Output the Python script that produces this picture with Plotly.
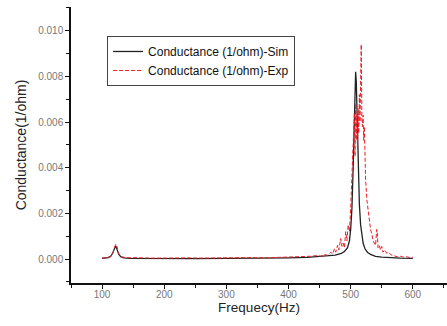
import plotly.graph_objects as go

# Simulated conductance
sim_freq = [100, 105, 110, 114, 117, 119, 121, 122, 123, 125, 127, 130, 135, 145, 170, 200, 250,
            300, 350, 400, 430, 450, 465, 475, 485, 490, 495, 498, 500, 502, 504, 505, 506, 507,
            508, 509, 510, 511, 512, 514, 516, 518, 520, 523, 527, 532, 540, 550, 565, 580, 600]
sim_val = [0.00003, 0.00004, 0.00006, 0.00012, 0.00025, 0.0004, 0.00055, 0.00057, 0.0005, 0.00035,
           0.0002, 0.0001, 0.00005, 0.00003, 0.00002, 0.00002, 0.00002, 0.00003, 0.00003, 0.00005,
           0.00007, 0.0001, 0.00013, 0.00017, 0.00025, 0.00033, 0.0005, 0.0008, 0.0013, 0.0022,
           0.0040, 0.0053, 0.0068, 0.0079, 0.0082, 0.0078, 0.0066, 0.0052, 0.0040, 0.0024, 0.0015,
           0.0010, 0.0007, 0.00045, 0.0003, 0.0002, 0.00012, 0.00008, 0.00005, 0.00004, 0.00003]

# Experimental conductance
exp_freq = [100, 104, 108, 112, 115, 118, 120, 122, 123, 124, 126, 128, 131, 135, 140, 150, 160, 170,
            185, 200, 220, 240, 260, 280, 300, 320, 340, 360, 380, 400, 415, 425, 435, 445, 452, 458,
            463, 468, 471, 474, 476, 479, 481, 484, 486, 488, 490, 492, 494, 496, 498, 500, 502, 504,
            506, 507, 508, 509, 510, 511, 512, 513, 514, 515, 516, 517, 518, 519, 520, 521, 522, 523,
            524, 526, 528, 530, 532, 534, 536, 538, 540, 542, 543, 544, 546, 548, 550, 552, 555, 558,
            561, 565, 570, 575, 580, 585, 590, 595, 600]
exp_val = [0.00004, 0.00005, 0.00006, 0.00009, 0.00015, 0.0003, 0.0005, 0.00065, 0.0006, 0.00055,
           0.0003, 0.00018, 0.0001, 0.00007, 0.00005, 0.00006, 0.00004, 0.00005, 0.00004, 0.00005,
           0.00004, 0.00005, 0.00004, 0.00005, 0.00004, 0.00005, 0.00006, 0.00005, 0.00007, 0.00008,
           0.0001, 0.00009, 0.00012, 0.00015, 0.00012, 0.0002, 0.00016, 0.0003, 0.00022, 0.00045,
           0.0003, 0.0006, 0.0004, 0.0009, 0.00055, 0.0007, 0.0005, 0.0012, 0.0008, 0.0015, 0.0012,
           0.0022, 0.0035, 0.0052, 0.0064, 0.0045, 0.0068, 0.0052, 0.0063, 0.0048, 0.0066, 0.0055,
           0.0072, 0.006, 0.0085, 0.0094, 0.0062, 0.0058, 0.0063, 0.0052, 0.0058, 0.0043, 0.0035,
           0.0026, 0.0022, 0.0016, 0.0013, 0.0011, 0.0008, 0.0007, 0.0006, 0.0013, 0.0011, 0.0005,
           0.0006, 0.0004, 0.00055, 0.0003, 0.0004, 0.00025, 0.0003, 0.00018, 0.00015, 0.0001,
           0.00012, 0.00008, 0.0001, 0.00007, 0.00008]

x_ticks = [100, 200, 300, 400, 500, 600]
y_ticks = [0.000, 0.002, 0.004, 0.006, 0.008, 0.010]

FONT = "Liberation Sans, Arial, sans-serif"

fig = go.Figure()
fig.add_trace(go.Scatter(x=sim_freq, y=sim_val, mode="lines",
                         name="Conductance (1/ohm)-Sim",
                         line=dict(color="#222222", width=1.3)))
fig.add_trace(go.Scatter(x=exp_freq, y=exp_val, mode="lines",
                         name="Conductance (1/ohm)-Exp",
                         line=dict(color="#ee1c24", width=1, dash="4px,2px")))

fig.update_layout(
    width=447, height=326,
    margin=dict(l=71, r=0, t=7, b=43, autoexpand=False),
    paper_bgcolor="white", plot_bgcolor="white",
    font=dict(family=FONT, color="#222222"),
    showlegend=True,
    legend=dict(x=0.096, y=0.895, xanchor="left", yanchor="top",
                bordercolor="#444444", borderwidth=1, bgcolor="white",
                font=dict(size=12, color="#111111"),
                tracegroupgap=0, itemwidth=30),
    xaxis=dict(range=[50, 655], tickvals=x_ticks, ticktext=[str(v) for v in x_ticks],
               showgrid=False, zeroline=False, showline=True, linecolor="#111111", linewidth=1.5,
               ticks="outside", ticklen=4, tickwidth=1, tickcolor="#111111",
               tickfont=dict(size=10, color="#777777"), ticklabelstandoff=-3,
               minor=dict(dtick=50, tick0=50, ticks="outside", ticklen=3, tickcolor="#111111", showgrid=False),
               title=dict(text="Frequecy(Hz)", font=dict(size=13.5, color="#222222"), standoff=0)),
    yaxis=dict(range=[-0.00105, 0.01104], tickvals=y_ticks, ticktext=["%.3f" % v for v in y_ticks],
               showgrid=False, zeroline=False, showline=True, linecolor="#111111", linewidth=1.5,
               ticks="outside", ticklen=4, tickwidth=1, tickcolor="#111111",
               tickfont=dict(size=10, color="#777777"),
               minor=dict(dtick=0.001, tick0=0, ticks="outside", ticklen=3, tickcolor="#111111", showgrid=False),
               title=dict(text="Conductance(1/ohm)", font=dict(size=14, color="#222222"), standoff=8)),
)

fig.write_html("out.html", config={"displayModeBar": False},
               post_script="document.body.style.margin='0';document.body.style.padding='0';")
